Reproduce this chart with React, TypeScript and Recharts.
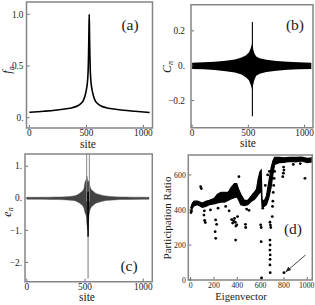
import React from "react";
import {
  ComposedChart,
  Line,
  Area,
  Scatter,
  XAxis,
  YAxis,
  ReferenceArea,
  ReferenceLine,
  ReferenceDot,
} from "recharts";

const FONT = "'Liberation Serif', 'Times New Roman', serif";
const FRAME = "#858585";

// (a) f_n vs site
const sitesA = [0, 125, 225, 325, 375, 425, 455, 475, 490, 500, 507, 512, 516, 519, 522, 525, 528, 531, 534, 538, 543, 550, 560, 575, 595, 625, 675, 725, 825, 925, 1055];
const fA = [0.052, 0.062, 0.072, 0.087, 0.097, 0.115, 0.14, 0.17, 0.22, 0.27, 0.32, 0.38, 0.47, 0.6, 0.8, 1.0, 0.8, 0.6, 0.47, 0.38, 0.32, 0.27, 0.22, 0.17, 0.14, 0.115, 0.097, 0.087, 0.072, 0.062, 0.05];

// (b) C_n envelope (dense oscillation drawn as filled band) + central spike
const sitesB = [0, 100, 200, 300, 380, 440, 480, 505, 520, 530, 536, 542, 552, 570, 600, 660, 750, 850, 950, 1060];
const hiB = [0.017, 0.019, 0.023, 0.029, 0.035, 0.047, 0.06, 0.076, 0.098, 0.118, 0.13, 0.098, 0.073, 0.053, 0.043, 0.034, 0.027, 0.023, 0.019, 0.017];
const loB = [-0.019, -0.021, -0.025, -0.032, -0.039, -0.051, -0.068, -0.083, -0.108, -0.128, -0.14, -0.113, -0.083, -0.058, -0.047, -0.036, -0.029, -0.024, -0.021, -0.019];
const spikeSitesB = [536, 536];
const spikeB = [0.25, -0.29];

// (c) e_n envelope + spikes
const sitesC = [0, 100, 200, 280, 340, 400, 440, 470, 490, 500, 510, 516, 520, 526, 532, 538, 550, 567, 590, 620, 680, 750, 800, 900, 1050];
const hiC = [0.03, 0.03, 0.035, 0.04, 0.05, 0.07, 0.12, 0.2, 0.3, 0.5, 0.6, 0.7, 0.6, 0.5, 0.55, 0.44, 0.3, 0.23, 0.16, 0.12, 0.07, 0.05, 0.04, 0.035, 0.03];
const loC = [-0.03, -0.03, -0.035, -0.04, -0.05, -0.07, -0.12, -0.2, -0.3, -0.45, -0.55, -0.8, -0.9, -1.0, -0.6, -0.44, -0.3, -0.23, -0.16, -0.12, -0.07, -0.05, -0.04, -0.035, -0.03];
const upSpike1 = [{ site: 514, e: -0.1 }, { site: 514, e: 1.6 }];
const upSpike2 = [{ site: 537, e: -0.1 }, { site: 537, e: 1.6 }];
const downSpikeDark = [{ site: 526, e: 0.2 }, { site: 526, e: -1.2 }];
const downSpikeLight = [{ site: 526, e: -1.2 }, { site: 526, e: -2.5 }];

// (d) participation ratio: dense band (lo/hi) + scattered points
const sitesD = [0, 15, 30, 60, 100, 130, 160, 200, 230, 260, 290, 320, 350, 375, 395, 410, 430, 460, 490, 520, 545, 565, 580, 595, 605, 612, 630, 650, 670, 690, 705, 720, 760, 800, 850, 900, 950, 1000, 1040];
const loD = [390, 410, 425, 430, 415, 420, 430, 435, 440, 445, 445, 455, 465, 470, 475, 460, 430, 425, 430, 450, 460, 475, 490, 500, 520, 420, 420, 430, 470, 530, 600, 660, 670, 672, 678, 675, 680, 670, 675];
const hiD = [410, 440, 450, 450, 440, 450, 455, 465, 490, 500, 500, 500, 530, 550, 550, 520, 490, 455, 455, 480, 500, 520, 580, 620, 628, 460, 450, 480, 560, 640, 680, 700, 700, 698, 700, 700, 702, 695, 698];
const outSites = [3, 8, 86, 92, 114, 120, 126, 118, 170, 214, 223, 210, 215, 235, 300, 330, 352, 360, 368, 376, 383, 388, 396, 402, 386, 414, 380, 395, 470, 472, 480, 500, 600, 605, 608, 605, 618, 625, 640, 660, 675, 680, 684, 687, 680, 681, 680, 682, 681, 680, 682, 700, 702, 705, 708, 712, 716, 720, 700, 800, 790, 795, 800, 797, 980, 880, 940];
const outPR = [385, 395, 533, 522, 371, 340, 328, 395, 400, 343, 318, 276, 238, 410, 420, 395, 345, 325, 338, 352, 330, 308, 315, 362, 228, 590, 530, 500, 318, 300, 405, 398, 315, 300, 12, 219, 410, 440, 540, 600, 620, 330, 314, 300, 228, 200, 171, 143, 118, 86, 42, 362, 420, 450, 500, 540, 580, 620, 640, 42, 590, 610, 628, 645, 581, 660, 665];
const arrowD = [{ site: 985, pr: 143 }, { site: 814, pr: 45 }];

const dataA = sitesA.map((s, i) => ({ site: s, f: fA[i] }));
const dataB = sitesB.map((s, i) => ({ site: s, band: [loB[i], hiB[i]] }));
const dataSpikeB = spikeSitesB.map((s, i) => ({ site: s, c: spikeB[i] }));
const dataC = sitesC.map((s, i) => ({ site: s, band: [loC[i], hiC[i]] }));
const dataD = sitesD.map((s, i) => ({ site: s, band: [loD[i], hiD[i]] }));
const dataOut = outSites.map((s, i) => ({ site: s, pr: outPR[i] }));

const W = 315;
const H = 305;
const ink = "#1a1a1a";
const labelStyle = { fontSize: 11.5, fontFamily: FONT, fill: ink };
const tagStyle = { fontSize: 15.5, fontFamily: FONT, fill: ink };

type Box = { l: number; t: number; r: number; b: number };

const xTick = (box: Box, labels: string[], values: number[], fs: number, dy: number) => (p: any) => {
  const i = values.indexOf(p.payload.value);
  const half = labels[i].length * fs * 0.25;
  const over = p.x + half > W - 0.5;
  return (
    <g>
      <line x1={p.x} x2={p.x} y1={box.b - 0.8} y2={box.b - 3} stroke="#444" strokeWidth={0.8} />
      <text x={over ? W - 0.5 : p.x} y={box.b + dy} textAnchor={over ? "end" : "middle"} fontSize={fs} fontFamily={FONT} fill={ink}>
        {labels[i]}
      </text>
    </g>
  );
};

const yTick = (box: Box, labels: string[], values: number[], gap: number, fs: number) => (p: any) => {
  const i = values.indexOf(p.payload.value);
  return (
    <g>
      <line x1={box.l + 0.8} x2={box.l + 3} y1={p.y} y2={p.y} stroke="#444" strokeWidth={0.8} />
      <text x={box.l - gap} y={p.y + fs * 0.34} textAnchor="end" fontSize={fs} fontFamily={FONT} fill={ink}>
        {labels[i]}
      </text>
    </g>
  );
};

// axes get 1px of room (an axis of size 0 is not drawn)
const margin = (box: Box) => ({ left: box.l - 1, top: box.t, right: W - box.r, bottom: H - box.b - 1 });

const layer: React.CSSProperties = { position: "absolute", left: 0, top: 0 };

const boxA: Box = { l: 26.5, t: 2, r: 152.5, b: 128 };
const boxB: Box = { l: 191, t: 4.7, r: 313, b: 127.7 };
const boxC: Box = { l: 25, t: 154, r: 152.3, b: 281.7 };
const boxD: Box = { l: 188.3, t: 155, r: 312.3, b: 280 };

const xTicks3 = [0, 500, 1000];
const xLabels3 = ["0", "500", "1000"];
const FS = 9.3;
const FSD = 7.8;

const PanelA = () => (
  <ComposedChart width={W} height={H} data={dataA} margin={margin(boxA)} style={layer}>
    <XAxis type="number" dataKey="site" domain={[-25, 1080]} allowDataOverflow ticks={xTicks3} height={1} axisLine={false} tickLine={false} tick={xTick(boxA, xLabels3, xTicks3, FS, 8.3)} interval={0} />
    <YAxis type="number" domain={[-0.1, 1.12]} allowDataOverflow ticks={[0, 0.5, 1]} width={1} axisLine={false} tickLine={false} tick={yTick(boxA, ["0.", "0.5", "1.0"], [0, 0.5, 1], 3, FS)} interval={0} />
    <Line type="monotone" dataKey="f" stroke="#000" strokeWidth={1.6} dot={false} isAnimationActive={false} />
    <ReferenceArea
      x1={-25} x2={1080} y1={-0.1} y2={1.12} fill="none" stroke={FRAME} strokeWidth={1.5} ifOverflow="visible"
      label={{
        content: () => (
          <g>
            <text x={88} y={147.5} textAnchor="middle" {...labelStyle}>site</text>
            <text transform="translate(11,70) rotate(-90)" textAnchor="middle" {...labelStyle} fontSize={12} fontStyle="italic">
              f<tspan fontSize={8} dy={2.5}>n</tspan>
            </text>
            <text x={130} y={29.5} textAnchor="middle" {...tagStyle}>(a)</text>
          </g>
        ),
      }}
    />
  </ComposedChart>
);

const PanelB = () => (
  <ComposedChart width={W} height={H} data={dataB} margin={margin(boxB)} style={layer}>
    <XAxis type="number" dataKey="site" domain={[-10, 1075]} allowDataOverflow ticks={xTicks3} height={1} axisLine={false} tickLine={false} tick={xTick(boxB, xLabels3, xTicks3, FS, 8.3)} interval={0} />
    <YAxis type="number" domain={[-0.356, 0.35]} allowDataOverflow ticks={[-0.2, 0, 0.2]} width={1} axisLine={false} tickLine={false} tick={yTick(boxB, ["\u22120.2", "0.", "0.2"], [-0.2, 0, 0.2], 6, FS)} interval={0} />
    <Area type="linear" dataKey="band" stroke="none" fill="#000" fillOpacity={1} isAnimationActive={false} />
    <Line data={dataSpikeB} type="linear" dataKey="c" stroke="#000" strokeWidth={1.1} dot={false} isAnimationActive={false} />
    <ReferenceArea
      x1={-10} x2={1075} y1={-0.356} y2={0.35} fill="none" stroke={FRAME} strokeWidth={1.5} ifOverflow="visible"
      label={{
        content: () => (
          <g>
            <text x={248} y={146.5} textAnchor="middle" {...labelStyle}>site</text>
            <text transform="translate(170.5,67) rotate(-90)" textAnchor="middle" {...labelStyle} fontSize={12} fontStyle="italic">
              C<tspan fontSize={8} dy={2.5}>n</tspan>
            </text>
            <text x={295} y={29.5} textAnchor="middle" {...tagStyle}>(b)</text>
          </g>
        ),
      }}
    />
  </ComposedChart>
);

const PanelC = () => (
  <ComposedChart width={W} height={H} data={dataC} margin={margin(boxC)} style={layer}>
    <XAxis type="number" dataKey="site" domain={[-15, 1077]} allowDataOverflow ticks={xTicks3} height={1} axisLine={false} tickLine={false} tick={xTick(boxC, xLabels3, xTicks3, FS, 8.1)} interval={0} />
    <YAxis type="number" domain={[-2.6, 1.38]} allowDataOverflow ticks={[-2, -1, 0, 1]} width={1} axisLine={false} tickLine={false} tick={yTick(boxC, ["\u22122.", "\u22121.", "0.", "1."], [-2, -1, 0, 1], 3, FS)} interval={0} />
    <Area type="monotone" dataKey="band" stroke="#555" strokeWidth={0.5} fill="#222" fillOpacity={0.85} isAnimationActive={false} />
    <Line data={upSpike1} dataKey="e" stroke="#888" strokeWidth={1} dot={false} isAnimationActive={false} />
    <Line data={upSpike2} dataKey="e" stroke="#888" strokeWidth={1} dot={false} isAnimationActive={false} />
    <Line data={downSpikeDark} dataKey="e" stroke="#000" strokeWidth={1.6} dot={false} isAnimationActive={false} />
    <Line data={downSpikeLight} dataKey="e" stroke="#777" strokeWidth={1} dot={false} isAnimationActive={false} />
    <ReferenceArea
      x1={-15} x2={1077} y1={-2.6} y2={1.38} fill="none" stroke={FRAME} strokeWidth={1.5} ifOverflow="visible"
      label={{
        content: () => (
          <g>
            <text x={87} y={300.5} textAnchor="middle" {...labelStyle}>site</text>
            <text transform="translate(10.5,212) rotate(-90)" textAnchor="middle" {...labelStyle} fontSize={12} fontStyle="italic">
              e<tspan fontSize={8} dy={2.5}>n</tspan>
            </text>
            <text x={129} y={270.5} textAnchor="middle" {...tagStyle}>(c)</text>
          </g>
        ),
      }}
    />
  </ComposedChart>
);

const arrowHead = (p: any) => {
  const ux = -0.749;
  const uy = 0.663;
  const L = 5.5;
  const hw = 2.2;
  const bx = p.cx - ux * L;
  const by = p.cy - uy * L;
  const pts = `${p.cx},${p.cy} ${bx + uy * hw},${by - ux * hw} ${bx - uy * hw},${by + ux * hw}`;
  return <polygon points={pts} fill="#222" />;
};

const dTicksX = [0, 200, 400, 600, 800, 1000];
const dTicksY = [0, 200, 400, 600];

const PanelD = () => (
  <ComposedChart width={W} height={H} data={dataD} margin={margin(boxD)} style={layer}>
    <XAxis type="number" dataKey="site" domain={[-20, 1043]} allowDataOverflow ticks={dTicksX} height={1} axisLine={false} tickLine={false} tick={xTick(boxD, dTicksX.map(String), dTicksX, FSD, 7.6)} interval={0} />
    <YAxis type="number" domain={[0, 714]} allowDataOverflow ticks={dTicksY} width={1} axisLine={false} tickLine={false} tick={yTick(boxD, dTicksY.map(String), dTicksY, 2.5, FSD)} interval={0} />
    <Area type="linear" dataKey="band" stroke="#000" strokeWidth={1.2} fill="#000" fillOpacity={1} isAnimationActive={false} />
    <Scatter data={dataOut} dataKey="pr" fill="#000" isAnimationActive={false} shape={(p: any) => <circle cx={p.cx} cy={p.cy} r={1.4} fill="#000" />} />
    <ReferenceLine segment={[{ x: arrowD[0].site, y: arrowD[0].pr }, { x: arrowD[1].site, y: arrowD[1].pr }]} stroke="#333" strokeWidth={0.9} />
    <ReferenceDot x={arrowD[1].site} y={arrowD[1].pr} shape={arrowHead} />
    <ReferenceArea
      x1={-20} x2={1043} y1={0} y2={714} fill="none" stroke={FRAME} strokeWidth={1.5} ifOverflow="visible"
      label={{
        content: () => (
          <g>
            <text x={241} y={299.5} textAnchor="middle" {...labelStyle} fontSize={10.7}>Eigenvector</text>
            <text transform="translate(171,218) rotate(-90)" textAnchor="middle" {...labelStyle} fontSize={11}>Participation Ratio</text>
            <text x={293} y={233.5} textAnchor="middle" {...tagStyle}>(d)</text>
          </g>
        ),
      }}
    />
  </ComposedChart>
);

export default function App() {
  return (
    <div style={{ position: "absolute", left: 0, top: 0, width: W, height: H, background: "#fff" }}>
      <PanelA />
      <PanelB />
      <PanelC />
      <PanelD />
    </div>
  );
}
